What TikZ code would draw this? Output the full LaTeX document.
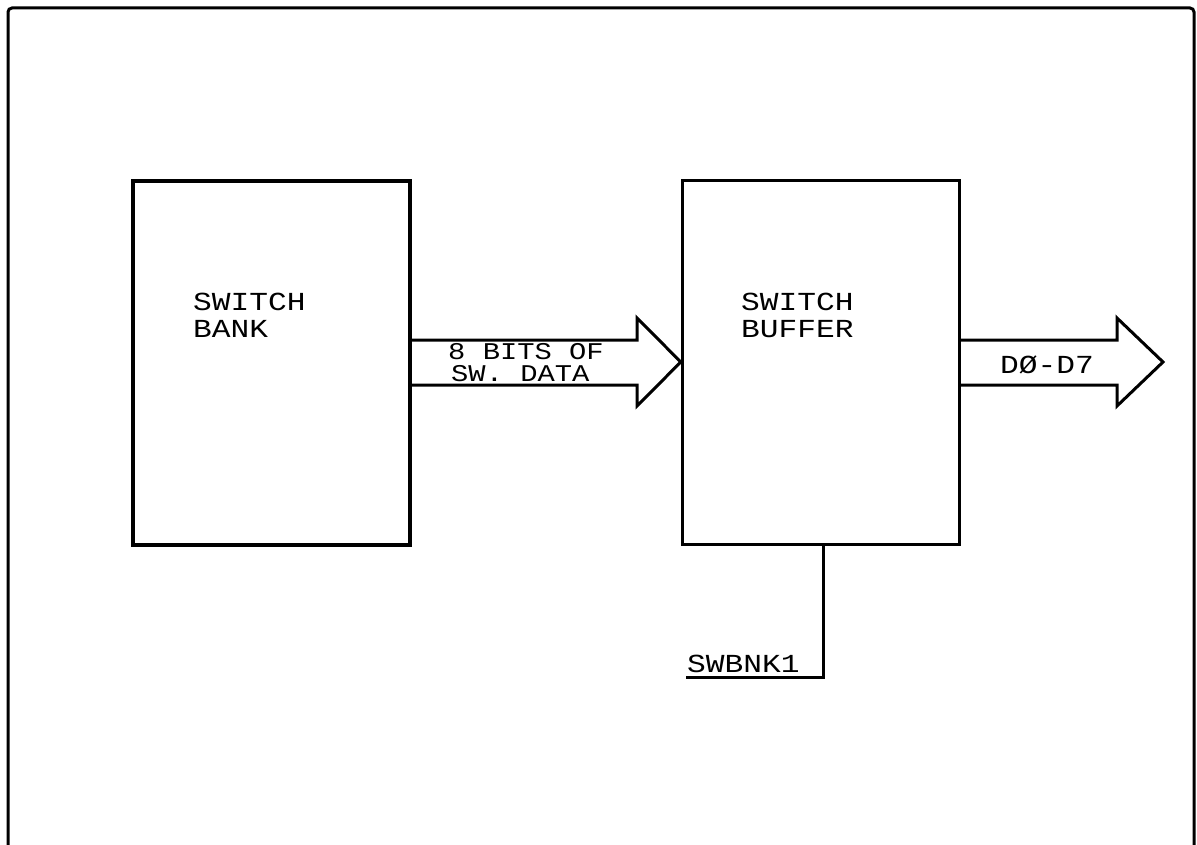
\documentclass[tikz,border=0pt]{standalone}
\usepackage{fontspec}
\setmonofont[FakeStretch=1.2]{Liberation Mono}
\begin{document}
\begin{tikzpicture}[x=1pt,y=-1pt,
  blk/.style={draw,line width=3.4pt,minimum width=277pt,minimum height=364pt,inner sep=0pt},
  lbl/.style={font=\ttfamily\fontsize{26}{26}\selectfont,inner sep=0pt,anchor=base west},
  sml/.style={lbl,font=\ttfamily\fontsize{24}{24}\selectfont},
  wire/.style={line width=3pt,line join=miter}]
\useasboundingbox (0,0) rectangle (1197,845);
% frame
\draw[line width=3pt,rounded corners=4pt] (8,845) -- (8,8) -- (1194,8) -- (1194,845);
% boxes
\node[blk] (bank) at (271.5,363) {};
\node[blk] (buf) at (821,362.5) {};
% labels
\node[lbl] (t1) at (193,310) {SWITCH};
\node[lbl] (t2) at (193,337) {BANK};
\node[lbl] (t3) at (741,310) {SWITCH};
\node[lbl] (t4) at (741,337) {BUFFER};
% arrow 1
\coordinate (a1t) at (bank.east |- 0,340);
\coordinate (a1b) at (bank.east |- 0,385);
\coordinate (a1tip) at (buf.west |- 0,362);
\draw[wire] (a1t) -- (637,340) -- (637,318) -- (a1tip) -- (637,406) -- (637,385) -- (a1b);
\node[sml] (t5) at (448,359.5) {8 BITS OF};
\node[sml] (t6) at (451,381.5) {SW. DATA};
% arrow 2
\coordinate (a2t) at (buf.east |- 0,340);
\coordinate (a2b) at (buf.east |- 0,385);
\coordinate (a2tip) at (1163,362);
\draw[wire] (a2t) -- (1117,340) -- (1117,318) -- (a2tip) -- (1117,406) -- (1117,385) -- (a2b);
\node[lbl] (t7) at (1000,373) {DØ-D7};
% SWBNK1
\coordinate (sw) at (686,677);
\node[lbl] (t8) at (687,672) {SWBNK1};
\draw[wire] (buf.south -| 823,0) -- (823,677) -- (sw);
\end{tikzpicture}
\end{document}
